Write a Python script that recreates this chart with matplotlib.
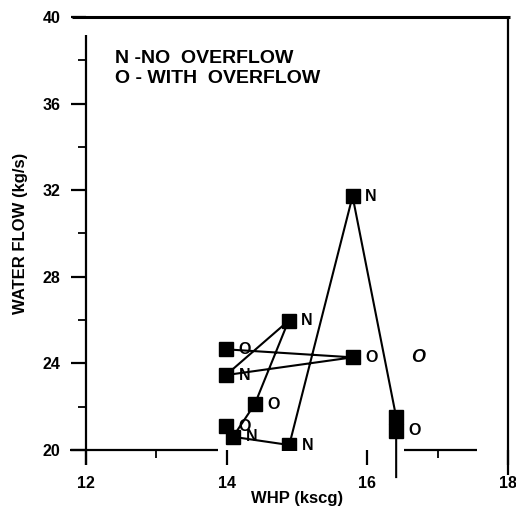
import matplotlib
matplotlib.use('Agg')
import matplotlib.pyplot as plt
from matplotlib.ticker import FixedLocator

plt.rcParams['font.family'] = ['Liberation Sans', 'DejaVu Sans']

# test points, WHP (kscg) vs water flow (kg/s)
whp = [13.99, 13.99, 14.88, 15.79, 14.40, 13.99, 14.09, 14.89, 15.79, 16.41, 16.41]
flow = [24.65, 23.46, 25.97, 24.28, 22.12, 21.10, 20.61, 20.23, 31.72, 21.52, 20.88]
tags = ['O', 'N', 'N', 'O', 'O', 'O', 'N', 'N', 'N', '', 'O']

# order the points are joined in; the last segment runs off below the axis
route = [0, 3, 1, 2, 4, 6, 7, 8, 9, 10]
tail_flow = 18.75

x_ticks = [12, 14, 16, 18]
y_ticks = [20, 24, 28, 32, 36, 40]
x_minor = [13, 17]
y_minor = [22, 26, 30, 34, 38]

fig = plt.figure(figsize=(5.16, 5.12), dpi=100)
ax = fig.add_axes([86 / 516, 62 / 512, 422 / 516, 433 / 512])
ax.set_xlim(12, 18)
ax.set_ylim(20, 40)

for s in ax.spines.values():
    s.set_visible(False)

# frame drawn by hand, it is broken like the scanned original
kw = dict(transform=ax.transAxes, color='black', clip_on=False, solid_capstyle='butt')
ax.plot([-0.033, 1.005], [1, 1], lw=2.2, **kw)
ax.plot([1, 1], [1, -0.058], lw=1.6, **kw)
ax.plot([0, 0], [0.958, -0.035], lw=1.6, **kw)
ax.plot([-0.038, 0.313], [0, 0], lw=1.6, **kw)
ax.plot([0.754, 0.927], [0, 0], lw=1.6, **kw)

ax.set_xticks(x_ticks)
ax.set_yticks(y_ticks)
ax.xaxis.set_minor_locator(FixedLocator(x_minor))
ax.yaxis.set_minor_locator(FixedLocator(y_minor))
ax.tick_params(which='major', direction='out', length=10.5, width=1.6, pad=8)
ax.tick_params(which='minor', direction='out', length=5.5, width=1.3)
ax.tick_params(axis='x', which='major', pad=8)
for lab in ax.get_xticklabels() + ax.get_yticklabels():
    lab.set_fontsize(11.5)
    lab.set_fontweight('bold')

ax.set_xlabel('WHP (kscg)', fontsize=12, fontweight='bold')
ax.xaxis.set_label_coords(0.50, -0.095)
ax.set_ylabel('WATER FLOW (kg/s)', fontsize=12, fontweight='bold')
ax.yaxis.set_label_coords(-0.137, 0.50)

xs = [whp[i] for i in route] + [whp[route[-1]]]
ys = [flow[i] for i in route] + [tail_flow]
ax.plot(xs, ys, color='black', lw=1.5, clip_on=False, zorder=2)
ax.plot(whp, flow, 's', color='black', ms=10, zorder=3)

for x, y, t in zip(whp, flow, tags):
    if t:
        ax.annotate(t, (x, y), xytext=(9, 0), textcoords='offset points',
                    ha='left', va='center', fontsize=11.5, fontweight='bold')

ax.text(16.72, 24.25, 'O', fontsize=13, fontweight='bold', style='italic',
        ha='center', va='center')

ax.text(0.068, 0.905, 'N -NO  OVERFLOW', transform=ax.transAxes,
        fontsize=14, fontweight='bold', va='center', ha='left')
ax.text(0.068, 0.859, 'O - WITH  OVERFLOW', transform=ax.transAxes,
        fontsize=14, fontweight='bold', va='center', ha='left')

fig.savefig('out.png', dpi=100)
